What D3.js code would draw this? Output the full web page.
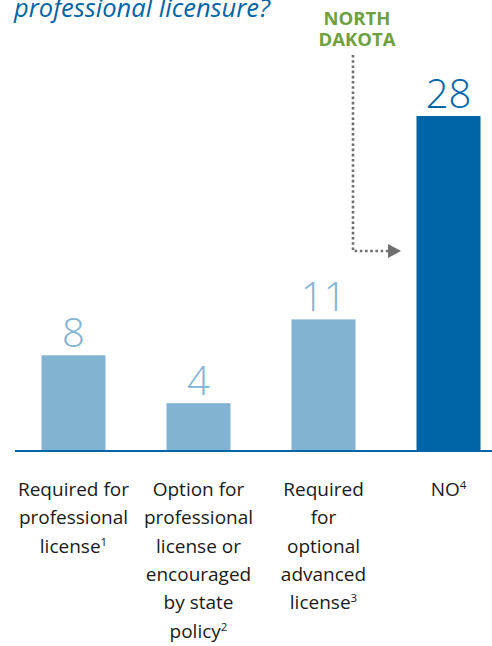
<!DOCTYPE html>
<html>
<head>
<meta charset="utf-8">
<script src="https://cdn.jsdelivr.net/npm/d3@7/dist/d3.min.js"></script>
<style>
html,body{margin:0;padding:0;background:#fff;}
svg{display:block;}
</style>
</head>
<body>
<script>
const categories = ["req", "opt", "adv", "no"];
const values = [8, 4, 11, 28];
const labelLines = [
  [["Required for"], ["professional"], ["license", "1"]],
  [["Option for"], ["professional"], ["license or"], ["encouraged"], ["by state"], ["policy", "2"]],
  [["Required"], ["for"], ["optional"], ["advanced"], ["license", "3"]],
  [["NO", "4"]]
];
const highlight = ["no"];
const titleText = "professional licensure?";
const annotation = ["NORTH", "DAKOTA"];

const W = 492, H = 646;
const light = "#82b3d3", dark = "#0065a6";
const svg = d3.select("body").append("svg").attr("width", W).attr("height", H);

const x = d3.scaleBand().domain(categories).range([11, 511]).paddingInner(0.488).paddingOuter(0.244);
const y = d3.scaleLinear().domain([0, 28]).range([451, 116]);

// title
svg.append("text").attr("x", 14).attr("y", 17)
  .attr("font-family", "Open Sans").attr("font-style", "italic")
  .attr("font-size", 25.5).attr("fill", dark).text(titleText);

// bars
svg.selectAll("rect.bar").data(categories).join("rect")
  .attr("x", d => x(d)).attr("width", x.bandwidth())
  .attr("y", (d, i) => y(values[i])).attr("height", (d, i) => y(0) - y(values[i]))
  .attr("fill", d => highlight.includes(d) ? dark : light);

// baseline
svg.append("line").attr("x1", 15).attr("x2", W).attr("y1", y(0)).attr("y2", y(0))
  .attr("stroke", dark).attr("stroke-width", 2);

// value labels
svg.selectAll("text.val").data(categories).join("text")
  .attr("x", d => x(d) + x.bandwidth() / 2).attr("y", (d, i) => y(values[i]) - 8)
  .attr("text-anchor", "middle").attr("font-family", "Open Sans").attr("font-weight", 300)
  .attr("font-size", 40).attr("fill", d => highlight.includes(d) ? dark : light)
  .text((d, i) => values[i]);

// category labels
categories.forEach((c, i) => {
  const cx = x(c) + x.bandwidth() / 2;
  const t = svg.append("text").attr("text-anchor", "middle")
    .attr("font-family", "Open Sans").attr("font-size", 19).attr("fill", "#1a1a1a");
  labelLines[i].forEach((ln, j) => {
    t.append("tspan").attr("x", cx).attr("y", 496 + j * 28.3).text(ln[0]);
    if (ln[1]) {
      t.append("tspan").attr("font-size", 11.5).attr("dy", -7).text(ln[1]);
    }
  });
});

// annotation
const ax = 357;
svg.append("text").attr("text-anchor", "middle").attr("font-family", "Open Sans")
  .attr("font-weight", 700).attr("font-size", 18.5).attr("fill", "#6da13f")
  .selectAll("tspan").data(annotation).join("tspan")
  .attr("x", ax).attr("y", (d, i) => 24.5 + i * 21).text(d => d);

const ay = 251;
svg.append("path").attr("d", `M${353},55 V${ay} H${389}`)
  .attr("fill", "none").attr("stroke", "#6f6f6f").attr("stroke-width", 2.6)
  .attr("stroke-dasharray", "2.6,2.6");
svg.append("path").attr("d", `M388,${ay - 7} L401,${ay} L388,${ay + 7} Z`).attr("fill", "#6f6f6f");
</script>
</body>
</html>
